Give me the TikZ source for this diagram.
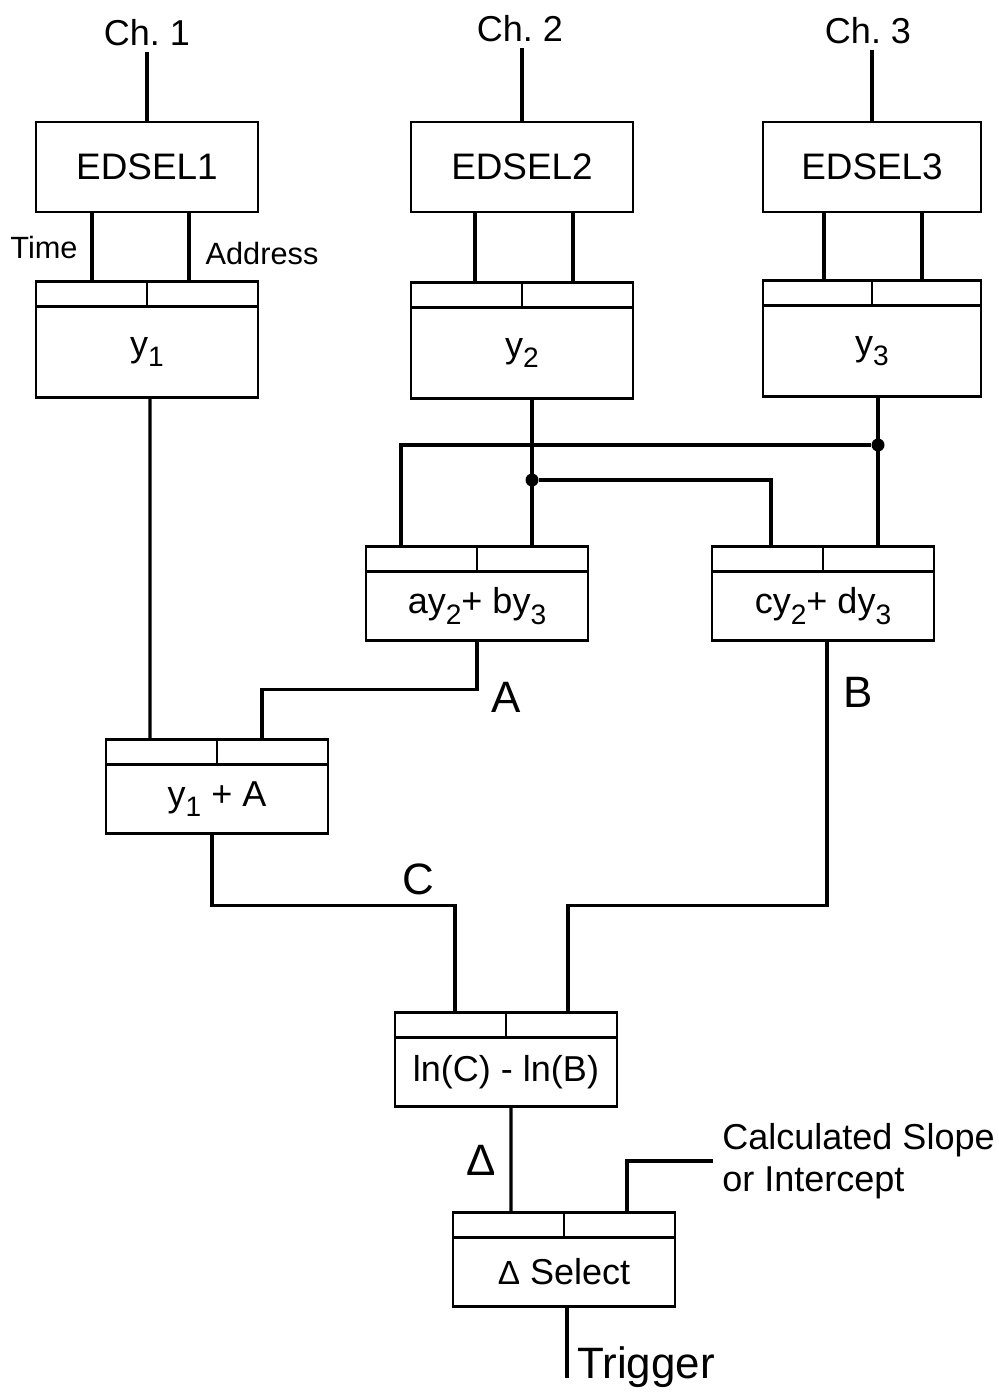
\documentclass[tikz,border=0pt]{standalone}
\usepackage{fontspec}
\setmainfont{Liberation Sans}
\usetikzlibrary{positioning}
\newcommand{\idx}[1]{\raisebox{-0.55ex}{\fontsize{16}{16}\selectfont #1}}
\begin{document}
\begin{tikzpicture}[x=0.02cm, y=-0.02cm,
			font=\fontsize{20.5}{24}\selectfont,
			wire/.style={line width=1.8pt},
			unit/.style={draw, line width=1.3pt, minimum width=4.44cm, minimum height=1.8cm, inner sep=0pt, outer sep=0pt, font=\fontsize{21}{24}\selectfont},
			strip/.style={draw, line width=1.3pt, minimum width=4.44cm, minimum height=0.5cm, inner sep=0pt, outer sep=0pt},
			body/.style={strip, minimum height=1.38cm},
			tag/.style={inner sep=0pt, font=\fontsize{25}{25}\selectfont},
			small/.style={inner sep=0pt, font=\fontsize{17.5}{20}\selectfont},
			dot/.style={circle, fill, inner sep=0pt, minimum size=0.26cm}
			]
			\useasboundingbox (0,0) rectangle (998,1392);
			% channels
			\node (ch1) at (147,33) {Ch.\ 1};
			\node (ch2) at (520,29) {Ch.\ 2};
			\node (ch3) at (868,31) {Ch.\ 3};
			\node[unit] (ed1) at (147,167) {EDSEL1};
			\node[unit] (ed2) at (522,167) {EDSEL2};
			\node[unit, minimum width=4.36cm] (ed3) at (872,167) {EDSEL3};
			\draw[wire] (ed1.north) -- (ed1.north |- ch1.south);
			\draw[wire] (ed2.north) -- (ed2.north |- ch2.south);
			\draw[wire] (ed3.north) -- (ed3.north |- ch3.south);
			% y boxes
			\node[strip] (y1in) at (147,294) {};
			\node[body, minimum height=1.82cm, below=0pt of y1in] (y1) {y\idx{1}};
			\node[strip] (y2in) at (522,295) {};
			\node[body, minimum height=1.82cm, below=0pt of y2in] (y2) {y\idx{2}};
			\node[strip, minimum width=4.36cm] (y3in) at (872,293) {};
			\node[body, minimum width=4.36cm, minimum height=1.82cm, below=0pt of y3in] (y3) {y\idx{3}};
			\node[small] (time) at (44,248) {Time};
			\node[small] (addr) at (262,254) {Address};
			\draw[wire] ([xshift=-1.1cm]ed1.south) -- ([xshift=-1.1cm]y1in.north);
			\draw[wire] ([xshift=0.84cm]ed1.south) -- ([xshift=0.84cm]y1in.north);
			\draw[wire] ([xshift=-0.94cm]ed2.south) -- ([xshift=-0.94cm]y2in.north);
			\draw[wire] ([xshift=1.02cm]ed2.south) -- ([xshift=1.02cm]y2in.north);
			\draw[wire] ([xshift=-0.96cm]ed3.south) -- ([xshift=-0.96cm]y3in.north);
			\draw[wire] ([xshift=1cm]ed3.south) -- ([xshift=1cm]y3in.north);
			% combinations
			\node[strip] (ayin) at (477,559) {};
			\node[body, below=0pt of ayin] (ay) {ay\idx{2}+ by\idx{3}};
			\node[strip] (cyin) at (823,559) {};
			\node[body, below=0pt of cyin] (cy) {cy\idx{2}+ dy\idx{3}};
			\node[dot] (j2) at (532,480) {};
			\node[dot] (j3) at (878,445) {};
			\draw[wire] (j2 |- y2.south) -- (j2 |- ayin.north);
			\draw[wire] (j3 |- y3.south) -- (j3 |- cyin.north);
			\draw[wire] (j3) -| ([xshift=-1.52cm]ayin.north);
			\draw[wire] (j2) -| ([xshift=-1.04cm]cyin.north);
			% sum and log ratio
			\node[strip] (sumin) at (217,752) {};
			\node[body, below=0pt of sumin] (sum) {y\idx{1} + A};
			\draw[wire] ([xshift=0.06cm]y1.south) -- ([xshift=-1.34cm]sumin.north);
			\draw[wire] (ay.south) -- ++(0,49) -| ([xshift=0.9cm]sumin.north);
			\node[tag] (labA) at (506,697) {A};
			\node[tag] (labB) at (858,692) {B};
			\node[tag] (labC) at (418,879) {C};
			\node[strip] (lnin) at (506,1025) {};
			\node[body, below=0pt of lnin] (ln) {ln(C) - ln(B)};
			\draw[wire] ([xshift=-0.1cm]sum.south) -- ++(0,72) -| ([xshift=-1.02cm]lnin.north);
			\draw[wire] ([xshift=0.08cm]cy.south) -- ++(0,265) -| ([xshift=1.24cm]lnin.north);
			% selection
			\node[strip] (selin) at (564,1225) {};
			\node[body, below=0pt of selin] (sel) {{\fontsize{19}{19}\selectfont Δ} Select};
			\node[tag] (labD) at (481,1160) {Δ};
			\draw[wire] ([xshift=0.1cm]ln.south) -- ([xshift=-1.06cm]selin.north);
			\node[align=left, anchor=west, inner xsep=0.18cm, inner ysep=0pt] (slope) at (713,1161) {Calculated Slope\\or Intercept};
			\draw[wire] ([xshift=1.26cm]selin.north) |- (slope.west);
			\node[anchor=base west, inner sep=0pt, font=\fontsize{25}{25}\selectfont] (trig) at (577,1378) {Trigger};
			\draw[wire] ([xshift=0.06cm]sel.south) -- ([xshift=0.06cm]sel.south |- trig.base);
			% strip dividers
			\draw[line width=1.3pt] (y1in.north) -- (y1in.south);
			\draw[line width=1.3pt] (y2in.north) -- (y2in.south);
			\draw[line width=1.3pt] (y3in.north) -- (y3in.south);
			\draw[line width=1.3pt] (ayin.north) -- (ayin.south);
			\draw[line width=1.3pt] (cyin.north) -- (cyin.south);
			\draw[line width=1.3pt] (sumin.north) -- (sumin.south);
			\draw[line width=1.3pt] (lnin.north) -- (lnin.south);
			\draw[line width=1.3pt] (selin.north) -- (selin.south);
		\end{tikzpicture}
\end{document}
